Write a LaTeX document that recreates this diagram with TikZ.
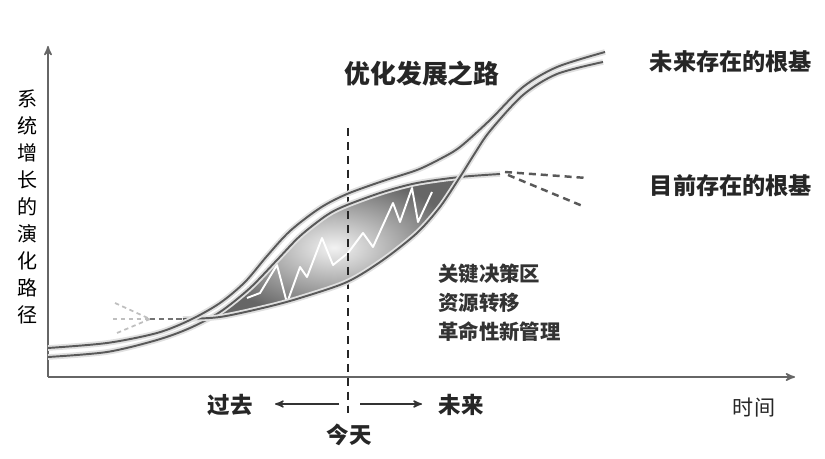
\documentclass[tikz,border=0pt]{standalone}
\usepackage{fontspec}
\newfontfamily\cjk{Noto Sans CJK SC}
\usetikzlibrary{arrows}

\begin{document}
\begin{tikzpicture}[x=0.02cm,y=-0.02cm,>=stealth',
                    line/.style={draw=black!65,line width=1.1pt,preaction={draw=black!12,line width=3.2pt}},
                    fan/.style={draw=gray!50,line width=1pt,dash pattern=on 2.5pt off 2pt},
                    decline/.style={draw=black!65,line width=1.4pt,dash pattern=on 4pt off 2.8pt},
                    main label/.style={font=\cjk\bfseries\fontsize{13.2}{15}\selectfont,text=black!85},
                    zone label/.style={font=\cjk\bfseries\fontsize{11.6}{14}\selectfont,text=black!80,anchor=west,inner sep=0pt},
                    time label/.style={font=\cjk\bfseries\fontsize{12.8}{15}\selectfont,text=black!85}]
\useasboundingbox (0,0) rectangle (825,459);

% axes
\coordinate (O) at (48,377);
\coordinate (ytop) at (48,46);
\coordinate (xend) at (795,377);
\draw[->,black!60,line width=0.9pt] (O) -- (ytop);
\draw[->,black!60,line width=0.9pt] (O) -- (xend);

% critical zone
\shade[inner color=gray!10,outer color=black!60]
  plot[smooth] coordinates {(208,318) (220,312) (250,288) (277,260) (300,236) (327,215) (347,205) (383,192) (417,183) (460,177)}
  -- plot[smooth] coordinates {(440,207) (417,233) (383,260) (347,282) (300,298) (267,307) (220,317)} -- cycle;
\draw[white,line width=1.1pt,line join=round]
  (247,298) -- (260,293) -- (277,265) -- (287,303) -- (300,267) -- (307,277) -- (322,238) -- (333,265)
  -- (348,253) -- (363,233) -- (373,247) -- (393,203) -- (400,222) -- (412,188) -- (418,222) -- (432,192);

% today
\coordinate (t1) at (348,128);
\coordinate (t2) at (348,413);
\draw[black!85,line width=1.4pt,dash pattern=on 4.5pt off 3.4pt] (t1) -- (t2);

% old curve and its decline
\path[line] plot[smooth] coordinates {(48,357) (107,352) (157,340) (190,328) (220,312) (250,288) (277,260) (300,236) (327,215) (347,205) (383,192) (417,183) (460,177) (500,174)};
\draw[decline] (505,172) -- (587,178);
\draw[decline] (508,175) -- (585,207);

% new curve
\draw[fan] (115,303) -- (150,319);
\draw[fan] (113,319) -- (150,319);
\draw[fan] (117,333) -- (150,319);
\draw[black!55,line width=1.2pt,dash pattern=on 3pt off 2pt] (150,319) -- (183,319);
\path[line] plot[smooth] coordinates {(183,319) (220,317) (267,307) (300,298) (347,282) (383,260) (417,233) (440,207) (460,177) (475,153) (490,131) (523,95) (557,74) (603,62)};

% optimized road
\path[line] plot[smooth] coordinates {(48,348) (107,343) (157,333) (190,320) (220,303) (245,282) (267,256) (290,231) (320,208) (347,194) (383,181) (417,170) (440,159) (460,147) (490,120) (523,87) (557,67) (605,52)};

% labels
\node[font=\cjk\fontsize{11.4}{15.4}\selectfont,align=center,text=black] (sys) at (28,207)
  {系\\统\\增\\长\\的\\演\\化\\路\\径};
\node[main label,font=\cjk\bfseries\fontsize{14.7}{17}\selectfont] (road) at (422,74) {优化发展之路};
\node[main label] (future base) at (731,62) {未来存在的根基};
\node[main label] (now base) at (731,186) {目前存在的根基};
\node[zone label] (z1) at (438,274) {关键决策区};
\node[zone label] (z2) at (438,303) {资源转移};
\node[zone label] (z3) at (438,332) {革命性新管理};

\node[time label] (past) at (230,405) {过去};
\node[time label] (future) at (461,405) {未来};
\node[time label] (today) at (349,435) {今天};
\node[font=\cjk\fontsize{12}{14}\selectfont,text=black!85] (time) at (754,408) {时间};

\coordinate (a1) at (339,404);
\coordinate (a2) at (275,404);
\coordinate (b1) at (360,404);
\coordinate (b2) at (422,404);
\draw[->,black!80,line width=0.8pt] (a1) -- (a2);
\draw[->,black!80,line width=0.8pt] (b1) -- (b2);
\end{tikzpicture}
\end{document}
